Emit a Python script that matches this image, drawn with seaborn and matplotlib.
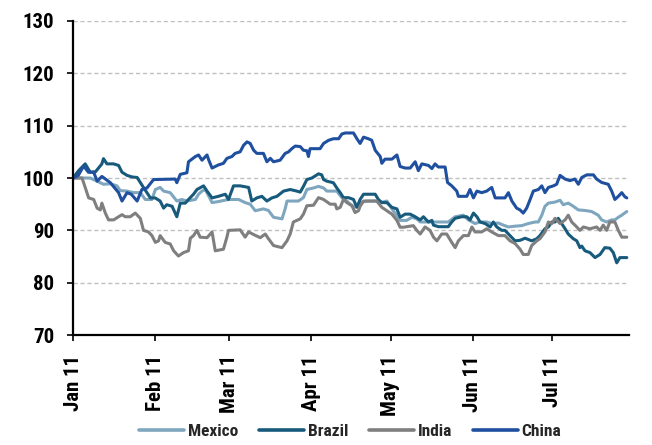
import matplotlib
matplotlib.use("Agg")
import matplotlib.pyplot as plt
import matplotlib.dates as mdates
from matplotlib import font_manager
import numpy as np
import pandas as pd
import seaborn as sns

# ---------------- data (day offsets from 1 Jan 2011, index values) ----------------
mexico_days = [0, 2.8, 6.5, 10.3, 11.5, 14.1, 16.6, 17.8, 20.4, 22.9, 25.4, 27.3, 29.8, 31.1, 32.9, 34.2,
               36.7, 39.2, 41.1, 43, 46.2, 47.4, 48.7, 49.9, 51.2, 52.5, 54.9, 58.7, 62.5, 65, 66.9, 68.8,
               71.9, 73.8, 75.7, 78.9, 80.1, 80.8, 85.1, 87, 88.3, 90.8, 92.7, 94.6, 95.8, 99.6, 101.5,
               103.4, 104.6, 106.5, 108.4, 110.9, 114.1, 116, 118.5, 120.4, 122.3, 123.5, 126, 127.9,
               129.8, 131.1, 132.9, 139.2, 141.7, 144.3, 147.4, 149.3, 151.8, 153.7, 156.2, 158.1, 160.6,
               162.5, 164.4, 166.9, 169.4, 171.9, 174.5, 175.7, 177, 178.2, 179.5, 182, 183.9, 185.1, 187,
               188.9, 190.8, 193.3, 195.8, 198.3, 199.6, 201.5, 203.4, 204.6, 205.9, 207.2, 209.1]
mexico_vals = [100, 100, 100, 99.1, 98.8, 98.9, 98.5, 97.6, 97.5, 97.2, 97.2, 95.9, 95.9, 97.8, 98.2, 97.5,
               97.2, 95.6, 95.9, 95.6, 95.9, 96.9, 97.5, 97.8, 96.6, 95.3, 95.5, 95.9, 95.9, 95.3, 95.0, 93.75,
               94.1, 93.8, 92.5, 92.2, 94.1, 95.6, 95.6, 96.25, 97.8, 98.1, 98.4, 98.1, 97.5, 97.5, 96.25,
               95.6, 95.0, 94.4, 95.3, 95.6, 95.6, 95.3, 95.6, 94.1, 92.8, 91.9, 91.9, 92.5,
               92.2, 91.6, 91.6, 91.6, 91.6, 92.6, 92.9, 92.0, 91.3, 91.6, 91.6, 91.3, 91.4,
               91.0, 90.65, 90.8, 90.9, 91.3, 91.6, 91.6, 92.9, 94.6, 95.2, 95.4, 95.75, 94.9, 95.2,
               94.6, 93.9, 93.8, 93.6, 92.9, 92.0, 91.6, 92.0, 92.0, 92.5, 92.9, 93.6]

brazil_days = [0, 2.1, 4.6, 6.5, 8.5, 10.9, 11.5, 12.8, 15.3, 17.2, 18.5, 20.4, 22.3, 24.2, 26.6, 29.2, 31,
               32.9, 34.2, 35.4, 37.4, 39.2, 40.5, 42.4, 43.6, 45.5, 46.8, 49.3, 50.6, 52.5, 54.9, 57.5,
               58.7, 60.6, 63.1, 66.3, 67.5, 69.4, 71.3, 73.2, 75.1, 77, 79.5, 82, 84.5, 85.8, 87, 88.3,
               90.2, 92.1, 92.7, 93.9, 94.6, 95.8, 98.3, 99.6, 100.9, 102.1, 104, 105.9, 107.2, 108.4,
               109.7, 112.2, 114.1, 115.3, 116.6, 118.5, 120.4, 122.3, 123.5, 125.4, 127.3, 129.2, 131.1,
               132.3, 134.2, 135.5, 136.1, 138, 141.7, 143, 144.3, 146.8, 148.7, 149.9, 151.2, 152.5,
               153.7, 155.6, 157.5, 158.7, 160, 161.9, 163.1, 165, 166.9, 168.8, 170.7, 173.2, 175.1,
               176.3, 178.2, 179.5, 180.8, 182, 183.2, 184.5, 185.8, 187, 188.9, 190.2, 191.4, 192.1,
               193.3, 195.2, 197.1, 199, 200.8, 202.7, 204, 205.3, 206.5, 209.1]
brazil_vals = [100, 101.4, 102.7, 101.1, 101.2, 102.7, 103.7, 102.7, 102.7, 102.4, 101.1, 100.5, 100.2,
               100.1, 98.2, 96.2, 96.2, 95.6, 94.25, 94.9, 94.6, 92.6, 95.2, 95.2, 95.9, 96.9, 97.8, 98.5,
               97.5, 96.2, 96.5, 96.9, 95.9, 98.5, 98.5, 98.2, 95.6, 96.2, 96.5, 95.6, 96.2, 96.5, 97.5,
               97.8, 97.5, 97.3, 98.4, 99.7, 100.0, 100.6, 100.8, 100.6, 99.7, 99.4, 99.1, 98.1, 97.2,
               96.25, 96.25, 95.9, 94.4, 95.9, 96.9, 96.9, 96.9, 95.9, 95.3, 95.3, 94.4, 94.1, 92.5, 93.1,
               93.1, 92.6, 92.0, 92.6, 91.6, 91.9, 91.0, 90.7, 90.7, 91.6, 92.3, 92.6, 92.6, 92.0, 93.3,
               92.6, 91.6, 91.3, 90.65, 91.6, 90.65, 90.0, 90.0, 89.0, 88.0, 88.1, 88.5, 88.0, 88.4,
               89.0, 90.3, 90.65, 91.6, 91.6, 92.3, 91.3, 90.3, 89.3, 88.4, 88.0, 86.7, 87.0,
               86.1, 85.75, 84.8, 85.4, 86.7, 86.6, 85.75, 83.8, 84.8, 84.8]

india_days = [0, 3.4, 4.6, 5.9, 7.8, 9.1, 10.3, 10.9, 12.2, 13.4, 15.3, 17.2, 18.5, 19.7, 21.6, 23.5, 25.4,
              26.6, 28.5, 29.8, 31.1, 32.3, 32.9, 34.8, 36.7, 38, 39.8, 41.7, 43.6, 44.3, 45.5, 46.8, 48,
              50.6, 52.5, 53.7, 56.8, 58.1, 58.7, 63.1, 65, 66.3, 68.2, 70.7, 72.6, 73.8, 75.7, 78.9,
              80.8, 82, 83.2, 85.8, 87, 88.3, 90.8, 92.7, 94.6, 97.1, 99, 99.6, 100.9, 102.1, 103.4,
              105.3, 106.5, 107.8, 108.4, 109.7, 114.7, 116.6, 118.5, 120.4, 122.3, 123.5, 124.8, 128.5,
              129.8, 131.1, 132.9, 134.8, 136.1, 137.4, 139.2, 141.1, 143, 144.3, 145.5, 147.4, 149.3,
              150.6, 151.8, 154.3, 156.2, 158.1, 160.6, 163.1, 165, 166.9, 168.8, 170, 171.9, 173.2,
              175.1, 176.3, 178.2, 179.5, 180.8, 182, 183.9, 185.8, 187, 188.3, 190.2, 191.4, 192.7,
              195.2, 197.7, 199, 200.2, 201.5, 202.7, 204.6, 205.9, 207.2, 209.1]
india_vals = [100, 100, 98.2, 96.2, 95.9, 94.25, 93.9, 95.2, 93.3, 92.0, 92.0, 92.6, 93.0, 92.6, 92.6, 93.3,
              92.3, 90.0, 89.7, 89.0, 87.7, 88.0, 89.0, 87.7, 87.4, 86.1, 85.1, 85.75, 86.1, 88.5, 89.0,
              90.0, 88.7, 88.6, 89.7, 86.1, 86.4, 88.7, 90.0, 90.1, 88.7, 89.7, 89.2, 88.6, 89.3, 88.4,
              87.1, 86.7, 88.0, 89.3, 91.6, 92.2, 93.1, 94.7, 94.8, 96.25, 95.9, 95.0, 95.0, 94.1, 94.4,
              95.9, 95.3, 94.7, 93.4, 93.75, 94.6, 95.6, 95.6, 94.4, 93.75, 93.1, 91.9, 90.6, 90.6, 90.9,
              90.0, 89.3, 90.65, 90.0, 88.7, 88.0, 89.3, 89.3, 87.7, 86.7, 88.0, 89.0, 89.0,
              90.65, 89.7, 89.7, 90.3, 89.7, 89.0, 89.0, 88.0, 87.5, 86.4, 85.4, 85.4, 87.1,
              88.0, 88.4, 89.7, 91.6, 91.3, 92.3, 91.3, 92.0, 92.9, 91.6, 90.65, 90.0, 90.65,
              90.3, 90.65, 90.0, 91.0, 90.0, 91.6, 91.6, 90.0, 88.7, 88.7]

china_days = [0, 2, 4, 5.8, 7.8, 9.1, 10.9, 14.1, 17.2, 18.5, 20.4, 22, 24.2, 26, 27.9, 30.4, 38.6, 39.2,
              40.5, 43, 43.6, 46.2, 47.4, 48.7, 50.6, 51.2, 52.5, 54.9, 56.8, 58.1, 60, 61.2, 63.1, 64.4,
              65.7, 66.9, 68.2, 69.4, 71.9, 73.2, 74.5, 75.7, 78.2, 80.1, 81.4, 82.6, 83.9, 85.8, 87,
              88.3, 88.9, 89.5, 93.3, 94.6, 96.5, 98.3, 100.3, 101.5, 102.8, 105.9, 107.2, 108.4, 109.7,
              111.5, 112.8, 114.1, 116, 116.6, 117.8, 120.4, 122.3, 123.5, 125.4, 127.3, 129.2, 130.4,
              131.7, 134.2, 135.5, 136.7, 137.9, 140.5, 141.4, 143, 144.9, 145.5, 148.7, 149.9, 151.2,
              152.5, 154.3, 156.2, 158.1, 159.4, 163.1, 164.4, 165.7, 167.5, 168.8, 170, 171.3, 172.6,
              173.8, 175.7, 177, 178.2, 179.5, 181.4, 182.6, 183.9, 185.8, 187.6, 189.5, 190.8, 192.1,
              194, 196.5, 197.7, 199.6, 202.1, 203.4, 204.6, 205.9, 207.2, 208.4, 209.1]
china_vals = [100, 100.5, 102.3, 101.1, 101.1, 99.4, 100.3, 99.1, 97.2, 95.6, 97.2, 96.9, 95.6, 97.8, 98.1,
              99.7, 99.8, 99.1, 100.7, 101.0, 103.1, 104.1, 104.4, 103.4, 104.4, 103.5, 101.9, 102.5, 102.8,
              103.75, 104.1, 104.7, 105.0, 106.25, 106.9, 106.6, 105.3, 104.7, 104.7, 103.1, 103.75, 103.1,
              103.4, 104.7, 105.0, 105.6, 106.1, 106.0, 105.3, 105.2, 104.1, 105.6, 105.6, 106.6, 107.2,
              107.5, 107.5, 108.4, 108.6, 108.6, 107.5, 106.6, 107.8, 107.5, 107.2, 105.3, 104.1, 102.8,
              103.6, 103.6, 104.4, 102.2, 101.9, 101.9, 103.1, 101.4, 102.7, 102.4, 101.8, 102.7, 102.1,
              102.1, 99.15, 98.5, 97.5, 96.5, 96.5, 97.8, 96.2, 97.5, 97.2, 97.5, 98.2, 96.2, 96.2, 97.2,
              95.6, 94.25, 93.9, 93.3, 94.25, 95.9, 97.5, 97.8, 98.5, 97.2, 98.2, 98.5, 98.8, 100.5, 99.8,
              99.5, 99.8, 98.8, 100.1, 100.6, 100.6, 99.8, 99.15, 98.8, 97.5, 95.9, 96.5, 97.2, 96.4, 96.2]

series_names = ["Mexico", "Brazil", "India", "China"]
series_colors = ["#7fa6bf", "#175a7c", "#7f7f7f", "#1f4f9f"]
y_ticks = [70, 80, 90, 100, 110, 120, 130]
month_ticks = ["2011-01-01", "2011-02-01", "2011-03-01", "2011-04-01",
               "2011-05-01", "2011-06-01", "2011-07-01"]

# ---------------- build table ----------------
start = pd.Timestamp("2011-01-01")
frames = []
for name, d, v in [("Mexico", mexico_days, mexico_vals), ("Brazil", brazil_days, brazil_vals),
                   ("India", india_days, india_vals), ("China", china_days, china_vals)]:
    frames.append(pd.DataFrame({"date": start + pd.to_timedelta(np.array(d), unit="D"),
                                "value": v, "series": name}))
df = pd.concat(frames, ignore_index=True)

# ---------------- style ----------------
sns.set_theme(style="white")

def pick_font():
    for fam in ["Liberation Sans Narrow", "Roboto Condensed", "DejaVu Sans"]:
        try:
            font_manager.findfont(font_manager.FontProperties(family=fam), fallback_to_default=False)
            return fam
        except Exception:
            continue
    return "DejaVu Sans"

fam = pick_font()
plt.rcParams["font.family"] = [fam, "DejaVu Sans"]
plt.rcParams["font.weight"] = "bold"

fig = plt.figure(figsize=(6.52, 4.45), dpi=100)
ax = fig.add_axes([0.112, 0.247, 0.853, 0.706])

sns.lineplot(data=df, x="date", y="value", hue="series", hue_order=series_names,
             palette=series_colors, estimator=None, sort=False, linewidth=2.2, ax=ax)

ax.set_ylim(70, 130)
ax.set_yticks(y_ticks)
ax.set_xlim(start, start + pd.Timedelta(days=210))
ax.set_xticks(pd.to_datetime(month_ticks))
ax.xaxis.set_major_formatter(mdates.DateFormatter("%b %y"))
ax.set_xlabel("")
ax.set_ylabel("")

for yv in y_ticks[1:]:
    ax.axhline(yv, color="#c0c0c0", linestyle=(0, (3, 2)), linewidth=1.0, zorder=0)

for s in ["top", "right"]:
    ax.spines[s].set_visible(False)
for s in ["left", "bottom"]:
    ax.spines[s].set_color("black")
    ax.spines[s].set_linewidth(1.6)

ax.tick_params(axis="both", which="major", direction="out", length=4.5, width=1.2,
               color="black", bottom=True, left=True)
ax.tick_params(axis="y", labelsize=15, pad=9)
ax.tick_params(axis="x", labelsize=15, pad=10, labelrotation=90)
for lbl in ax.get_xticklabels() + ax.get_yticklabels():
    lbl.set_fontweight("bold")
    lbl.set_color("black")

handles, labels = ax.get_legend_handles_labels()
for h in handles:
    h.set_linewidth(2.6)
ax.legend(handles, labels, loc="center", bbox_to_anchor=(0.537, 0.03),
          bbox_transform=fig.transFigure, ncol=4,
          frameon=False, handlelength=2.6, handletextpad=0.2, columnspacing=1.2,
          prop={"size": 12.5, "weight": "bold"})

fig.savefig("out.png", dpi=100)
